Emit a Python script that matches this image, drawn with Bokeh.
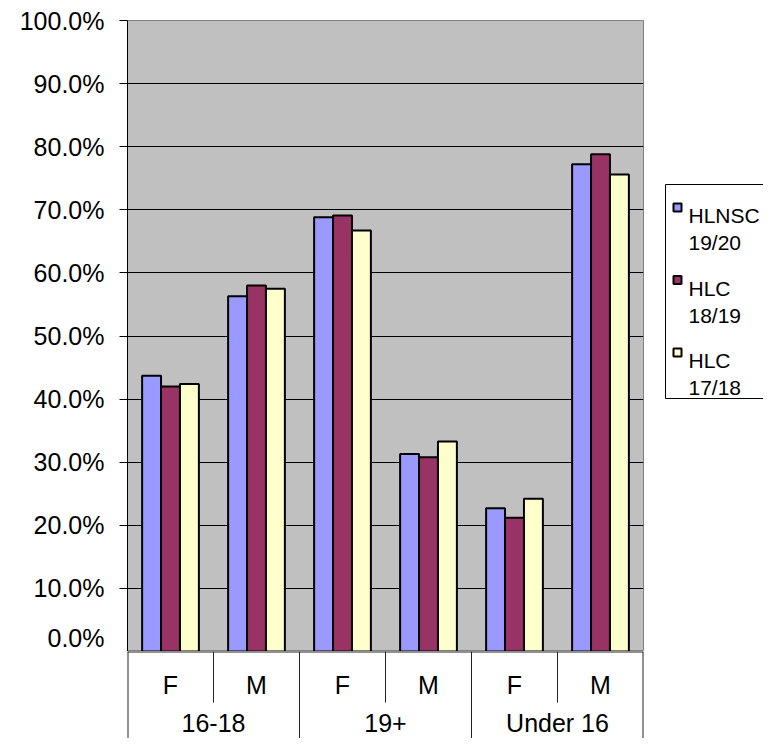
from bokeh.plotting import figure
from bokeh.models import FactorRange, Range1d, FixedTicker, NumeralTickFormatter, ColumnDataSource
from bokeh.transform import dodge
from bokeh.layouts import row, column
from bokeh.embed import file_html
from bokeh.resources import INLINE
from bokeh.core.properties import value

# ---------------- data ----------------
groups = ["16-18", "19+", "Under 16"]
sexes = ["F", "M"]
series_names = ["HLNSC 19/20", "HLC 18/19", "HLC 17/18"]
hlnsc_1920 = [0.437, 0.563, 0.688, 0.313, 0.227, 0.772]
hlc_1819 = [0.420, 0.580, 0.691, 0.308, 0.212, 0.788]
hlc_1718 = [0.424, 0.575, 0.667, 0.333, 0.242, 0.756]
series_colors = ["#9999FF", "#993366", "#FFFFCC"]
y_ticks = [0.0, 0.1, 0.2, 0.3, 0.4, 0.5, 0.6, 0.7, 0.8, 0.9, 1.0]

FONT = "Liberation Sans"

factors = [(g, s) for g in groups for s in sexes]
x_range = FactorRange(factors=factors, factor_padding=0, group_padding=0,
                      subgroup_padding=0, range_padding=0)

src = ColumnDataSource(dict(x=factors, s0=hlnsc_1920, s1=hlc_1819, s2=hlc_1718))

LEFT = 127
TOP = 20
FW = 516
FH = 631
MAIN_W = LEFT + FW + 1
MAIN_H = TOP + FH

# ---------------- main plot ----------------
p = figure(x_range=x_range, y_range=Range1d(0, 1),
           frame_width=FW, frame_height=FH,
           min_border_left=LEFT, min_border_right=1, min_border_top=TOP, min_border_bottom=0,
           x_axis_location=None, output_backend="svg", toolbar_location=None,
           background_fill_color="#C0C0C0", border_fill_color="white",
           outline_line_color="#808080")

p.xgrid.visible = False
p.ygrid.ticker = FixedTicker(ticks=y_ticks)
p.ygrid.grid_line_color = "black"
p.ygrid.grid_line_width = 1

ax = p.yaxis[0]
ax.ticker = FixedTicker(ticks=y_ticks)
ax.formatter = NumeralTickFormatter(format="0.0%")
ax.major_tick_out = 8
ax.major_tick_in = 0
ax.minor_tick_line_color = None
ax.axis_line_color = "black"
ax.major_tick_line_color = "black"
ax.major_label_text_font = FONT
ax.major_label_text_font_size = "25px"
ax.major_label_text_color = "black"
ax.major_label_standoff = 15

bar_w = 0.22
offsets = [-bar_w, 0.0, bar_w]
for i, (col, c) in enumerate(zip(["s0", "s1", "s2"], series_colors)):
    p.vbar(x=dodge("x", offsets[i], range=x_range), top=col, width=bar_w, bottom=0,
           source=src, fill_color=c, line_color="black", line_width=2)

# ---------------- category table below ----------------
TBL_H = 738 - MAIN_H
ROW_H = 51
p2 = figure(x_range=x_range, y_range=Range1d(TBL_H, 0),
            frame_width=FW, frame_height=TBL_H,
            min_border_left=LEFT, min_border_right=1, min_border_top=0, min_border_bottom=0,
            x_axis_location=None, y_axis_location=None, output_backend="svg",
            toolbar_location=None, outline_line_color=None,
            background_fill_color="white", border_fill_color="white")
for g in p2.grid:
    g.visible = False

sep_len = [TBL_H if s == sexes[0] else ROW_H for g, s in factors]
sep_w = [2 if s == sexes[0] and g == groups[0] else 1 for g, s in factors]
sep_src = ColumnDataSource(dict(x=factors, y1=sep_len, w=sep_w))
p2.segment(x0=dodge("x", -0.5, range=x_range), x1=dodge("x", -0.5, range=x_range),
           y0=0, y1="y1", line_width="w", line_color="#222222", source=sep_src)
end_src = ColumnDataSource(dict(x=[factors[-1]], y1=[TBL_H]))
p2.segment(x0=dodge("x", 0.5, range=x_range), x1=dodge("x", 0.5, range=x_range),
           y0=0, y1="y1", line_width=2, line_color="#222222", source=end_src)
top_src = ColumnDataSource(dict(a=[factors[0]], b=[factors[-1]]))
p2.segment(x0=dodge("a", -0.5, range=x_range), x1=dodge("b", 0.5, range=x_range),
           y0=0, y1=0, line_width=2, line_color="#222222", source=top_src)

sub_src = ColumnDataSource(dict(x=factors, t=[s for g, s in factors]))
p2.text(x="x", y=33, text="t", source=sub_src, text_align="center", text_baseline="middle",
        text_font=value(FONT), text_font_size="25px", text_color="black")
grp_src = ColumnDataSource(dict(x=groups, t=groups))
p2.text(x="x", y=71, text="t", source=grp_src, text_align="center", text_baseline="middle",
        text_font=value(FONT), text_font_size="25px", text_color="black")

# ---------------- legend ----------------
LW = 763 - MAIN_W
LH = MAIN_H
pl = figure(x_range=Range1d(0, LW), y_range=Range1d(LH, 0), width=LW, height=LH,
            min_border=0, x_axis_location=None, y_axis_location=None,
            output_backend="svg", toolbar_location=None, outline_line_color=None,
            background_fill_color="white", border_fill_color="white")
for g in pl.grid:
    g.visible = False

pl.quad(left=[21], right=[LW + 20], top=[184], bottom=[398],
        fill_color="white", line_color="black", line_width=1)
entry_y = [207, 279.5, 352]
first = [n.split(" ")[0] for n in series_names]
second = [n.split(" ")[1] for n in series_names]
pl.rect(x=[33] * 3, y=entry_y, width=8, height=8, fill_color=series_colors,
        line_color="black", line_width=2)
pl.text(x=[44] * 3, y=[y + 8 for y in entry_y], text=first, text_baseline="alphabetic",
        text_font=value(FONT), text_font_size="21px", text_color="black")
pl.text(x=[44] * 3, y=[y + 35 for y in entry_y], text=second, text_baseline="alphabetic",
        text_font=value(FONT), text_font_size="21px", text_color="black")

layout = row(column(p, p2, spacing=0), pl, spacing=0)
open("out.html", "w").write(file_html(layout, INLINE))
